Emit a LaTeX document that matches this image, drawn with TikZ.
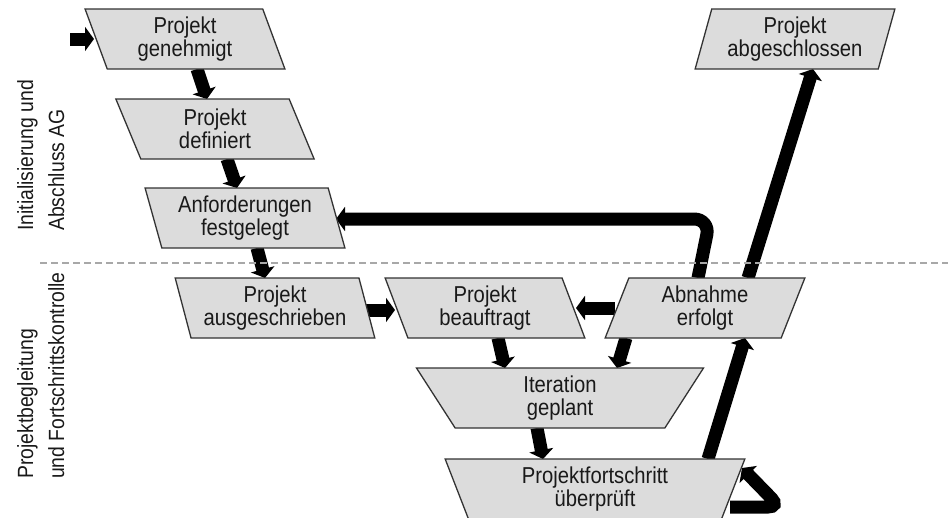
\documentclass[tikz,border=0pt]{standalone}
\usepackage{fontspec}
\setmainfont{Liberation Sans}[FakeStretch=0.88]
\usetikzlibrary{shapes.geometric,arrows.meta,calc}
\pgfdeclarelayer{bg}
\pgfsetlayers{bg,main}
\definecolor{boxgray}{HTML}{DCDCDC}
\definecolor{edgegray}{HTML}{333333}
\definecolor{sepgray}{HTML}{A8A8A8}
\begin{document}
\begin{tikzpicture}[x=1pt,y=-1pt,
  box/.style={draw=edgegray, fill=boxgray, line width=1.3pt, trapezium,
    trapezium stretches=true, minimum width=200pt, minimum height=60pt,
    inner sep=0pt, outer sep=0pt, align=center,
    font=\fontsize{23}{23.5}\selectfont, text=black!90},
  lean/.style={box, trapezium left angle=106.7, trapezium right angle=73.3},
  rlean/.style={box, trapezium left angle=73.3, trapezium right angle=106.7},
  inv/.style={box, trapezium left angle=106.7, trapezium right angle=106.7},
  flow/.style={line width=13pt, black,
    -{Triangle[length=9pt 0 0, width=24pt 0 0]}},
  lbl/.style={rotate=90, anchor=north west, align=left, inner sep=0pt,
    font=\fontsize{22}{31}\selectfont, text=black!90},
  sepline/.style={draw=sepgray, line width=1.4pt, dash pattern=on 7pt off 4pt}
]
\useasboundingbox (0,0) rectangle (948,517);
\clip (0,0) rectangle (948,517);

% separator
\draw[sepline] (40,263) -- (948,263);

% lane labels
\node[lbl] (lane1) at (17,231) {Initialisierung und\\Abschluss AG};
\node[lbl] (lane2) at (17,479) {Projektbegleitung\\und Fortschrittskontrolle};

% boxes
\node[lean]  (gen) at (185,39)  {Projekt\\genehmigt};
\node[lean]  (def) at (215,129) {Projekt\\definiert};
\node[lean]  (anf) at (245,218) {Anforderungen\\festgelegt};
\node[lean]  (aus) at (275,308) {Projekt\\ausgeschrieben};
\node[lean]  (bea) at (485,308) {Projekt\\beauftragt};
\node[rlean] (abn) at (705,308) {Abnahme\\erfolgt};
\node[inv, minimum width=290pt] (ite) at (560,398) {Iteration\\geplant};
\node[inv, minimum width=300pt] (pfu) at (595,489) {Projektfortschritt\\überprüft};
\node[rlean] (abg) at (795,39)  {Projekt\\abgeschlossen};

\coordinate (start) at (70,39);

\begin{pgfonlayer}{bg}
  \draw[flow] (start) -- ($(gen)+(-91,0)$);
  \draw[flow] ($(gen)+(12,30)$) -- ($(def)+(-8,-30)$);
  \draw[flow] ($(def)+(12,30)$) -- ($(anf)+(-8,-30)$);
  \draw[flow] ($(anf)+(12,30)$) -- ($(aus)+(-10,-30)$);
  \draw[flow] ($(aus)+(91,2)$) -- ($(bea)+(-90,2)$);
  \draw[flow] ($(abn)+(-90,0)$) -- ($(bea)+(91,0)$);
  \draw[flow] ($(bea)+(13,30)$) -- ($(ite)+(-55,-30)$);
  \draw[flow] ($(abn)+(-79,30)$) -- ($(ite)+(57,-30)$);
  \draw[flow] ($(ite)+(-23,30)$) -- ($(pfu)+(-52,-30)$);
  \draw[flow] ($(pfu)+(113,-30)$) -- ($(abn)+(40,30)$);
  \draw[flow] ($(abn)+(43,-30)$) -- ($(abg)+(18,30)$);
  \draw[flow, rounded corners=16pt] ($(abn)+(-7,-30)$) -- ($(abn)+(5,-89)$) -- ($(anf)+(91,1)$);
  \draw[flow, rounded corners=12pt] ($(pfu)+(135,18)$) -- ($(pfu)+(185,18)$) -- ($(pfu)+(147,-21)$);
\end{pgfonlayer}
\end{tikzpicture}
\end{document}
